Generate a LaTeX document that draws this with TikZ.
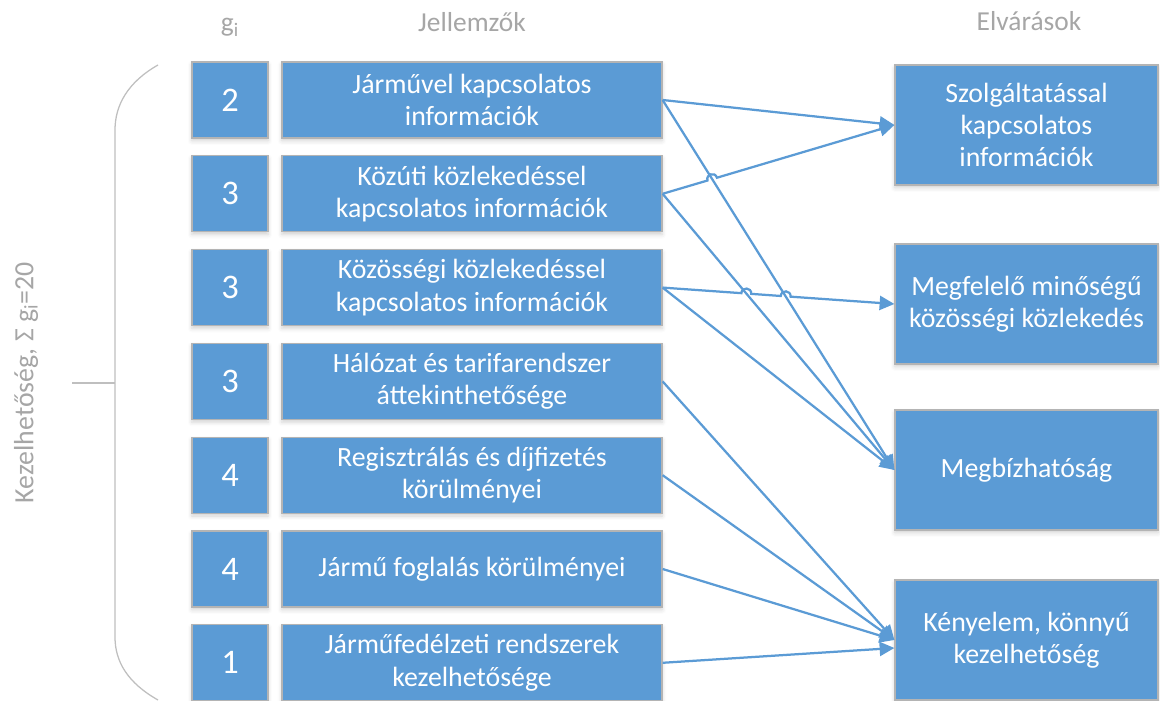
\documentclass[tikz,border=0pt]{standalone}
\usepackage{fontspec}
\setmainfont{Carlito}
\usetikzlibrary{arrows.meta,calc,shadows.blur}

\definecolor{boxblue}{HTML}{5B9BD5}
\definecolor{edgegray}{HTML}{B4B4B4}
\definecolor{labelgray}{HTML}{A6A6A6}
\definecolor{bracegray}{HTML}{BFBFBF}

\begin{document}
\begin{tikzpicture}[x=0.025cm, y=0.025cm,
  box/.style={draw=edgegray, line width=0.8pt, fill=boxblue, text=white,
    inner sep=0pt, align=center,
    font=\fontsize{19.8}{23}\selectfont,
    blur shadow={shadow xshift=0pt, shadow yshift=-2pt,
      shadow blur radius=3pt, shadow opacity=18}},
  gbox/.style={box, minimum width=1.9cm, minimum height=1.9cm,
    font=\fontsize{24.5}{28}\selectfont},
  featbox/.style={box, minimum width=9.5cm, minimum height=1.9cm},
  goalbox/.style={box, minimum width=6.575cm, minimum height=3cm},
  header/.style={text=labelgray, anchor=base, font=\fontsize{19.5}{23}\selectfont},
  conn/.style={draw=boxblue, line width=1.6pt,
    -{Triangle[length=10.5pt, width=10pt]}},
  brace/.style={draw=bracegray, line width=0.9pt}
]
\useasboundingbox (0,0) rectangle (1160,-701);

% column headers
\node[header] (hg) at (230,-32) {g\textsubscript{i}};
\node[header] (hj) at (472,-32) {Jellemzők};
\node[header] (he) at (1029,-31) {Elvárások};

% weights
\node[gbox] (g1) at (230,-100)   {2};
\node[gbox] (g2) at (230,-193.8) {3};
\node[gbox] (g3) at (230,-287.6) {3};
\node[gbox] (g4) at (230,-381.4) {3};
\node[gbox] (g5) at (230,-475.2) {4};
\node[gbox] (g6) at (230,-569)   {4};
\node[gbox] (g7) at (230,-662.8) {1};

% characteristics
\node[featbox] (f1) at (472,-100)   {Járművel kapcsolatos\\információk};
\node[featbox] (f2) at (472,-193.8) {Közúti közlekedéssel\\kapcsolatos információk};
\node[featbox] (f3) at (472,-287.6) {Közösségi közlekedéssel\\kapcsolatos információk};
\node[featbox] (f4) at (472,-381.4) {Hálózat és tarifarendszer\\áttekinthetősége};
\node[featbox] (f5) at (472,-475.2) {Regisztrálás és díjfizetés\\körülményei};
\node[featbox] (f6) at (472,-569)   {Jármű foglalás körülményei};
\node[featbox] (f7) at (472,-662.8) {Járműfedélzeti rendszerek\\kezelhetősége};

% expectations
\node[goalbox] (e1) at (1026.5,-125) {Szolgáltatással\\kapcsolatos\\információk};
\node[goalbox] (e2) at (1026.5,-304) {Megfelelő minőségű\\közösségi közlekedés};
\node[goalbox] (e3) at (1026.5,-470) {Megbízhatóság};
\node[goalbox] (e4) at (1026.5,-640) {Kényelem, könnyű\\kezelhetőség};

% brace and its label
\draw[brace] (158,-65) .. controls (128,-82) and (115,-105) .. (115,-130)
  -- (115,-637) .. controls (115,-662) and (128,-683) .. (158,-700);
\coordinate (bt) at (115,-383);
\coordinate (bl) at (72,-383);
\draw[brace] (bl) -- (bt);
\node[text=labelgray, rotate=90, font=\fontsize{19.8}{23}\selectfont]
  (lab) at (26,-383) {Kezelhetőség, Σ g\textsubscript{i}=20};

% crossing points, where a line hops over another
\coordinate (X1) at (intersection of f1.east--e3.west and f2.east--e1.west);
\coordinate (X2) at (intersection of f2.east--e3.west and f3.east--e2.west);
\coordinate (X3) at (intersection of f1.east--e3.west and f3.east--e2.west);
\coordinate (X1a) at ($(X1)!3.5pt!(f2.east)$);
\coordinate (X1b) at ($(X1)!3.5pt!(e1.west)$);
\coordinate (X2a) at ($(X2)!3.5pt!(f3.east)$);
\coordinate (X2b) at ($(X2)!3.5pt!(e2.west)$);
\coordinate (X3a) at ($(X3)!3.5pt!(f3.east)$);
\coordinate (X3b) at ($(X3)!3.5pt!(e2.west)$);
\coordinate (e4low) at ($(e4.west)+(0,-8)$);

% connectors
\draw[conn] (f1.east) -- (e1.west);
\draw[conn] (f1.east) -- (e3.west);
\draw[conn] (f2.east) -- (X1a)
  .. controls ($(X1a)!4.7pt!90:(X1)$) and ($(X1b)!4.7pt!-90:(X1)$) .. (X1b)
  -- (e1.west);
\draw[conn] (f2.east) -- (e3.west);
\draw[conn] (f3.east) -- (X2a)
  .. controls ($(X2a)!4.7pt!90:(X2)$) and ($(X2b)!4.7pt!-90:(X2)$) .. (X2b)
  -- (X3a)
  .. controls ($(X3a)!4.7pt!90:(X3)$) and ($(X3b)!4.7pt!-90:(X3)$) .. (X3b)
  -- (e2.west);
\draw[conn] (f3.east) -- (e3.west);
\draw[conn] (f4.east) -- (e4.west);
\draw[conn] (f5.east) -- (e4.west);
\draw[conn] (f6.east) -- (e4.west);
\draw[conn] (f7.east) -- (e4low);
\end{tikzpicture}
\end{document}
